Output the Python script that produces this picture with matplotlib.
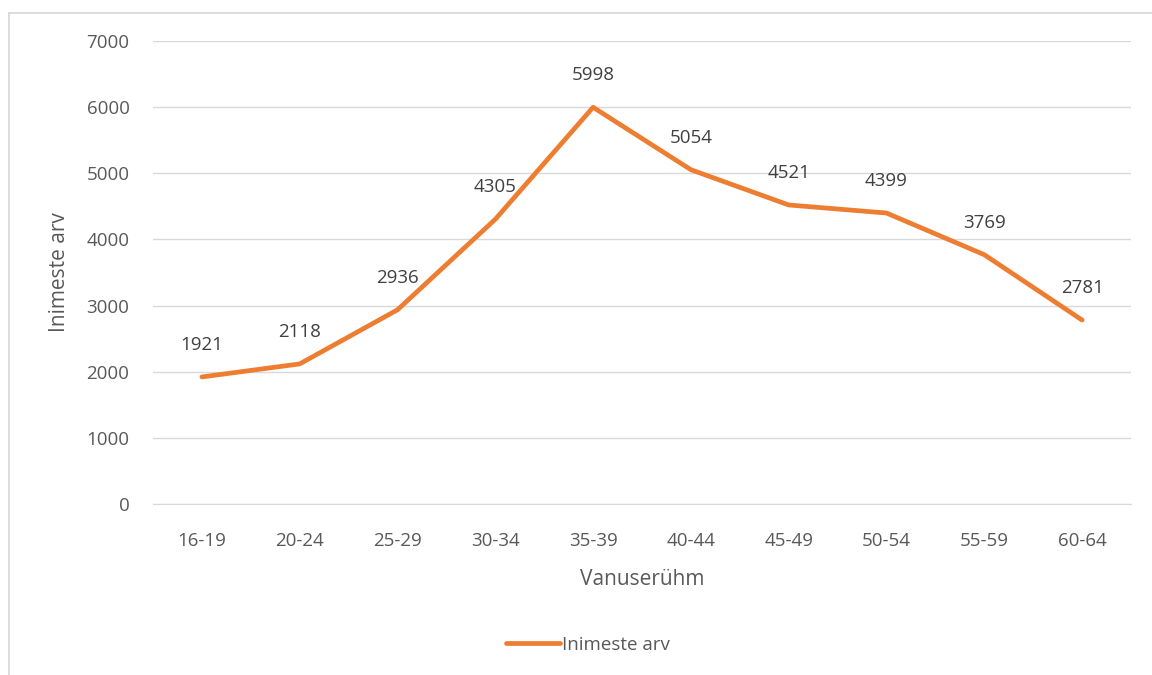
import matplotlib
matplotlib.use("Agg")
import matplotlib.pyplot as plt
from matplotlib.lines import Line2D

categories = ["16-19", "20-24", "25-29", "30-34", "35-39", "40-44", "45-49", "50-54", "55-59", "60-64"]
values = [1921, 2118, 2936, 4305, 5998, 5054, 4521, 4399, 3769, 2781]
yticks = [0, 1000, 2000, 3000, 4000, 5000, 6000, 7000]
series_name = "Inimeste arv"
xlabel = "Vanuserühm"
ylabel = "Inimeste arv"

W, H = 1152, 675
plt.rcParams['font.family'] = ['Open Sans', 'DejaVu Sans']
fig = plt.figure(figsize=(W / 100, H / 100), dpi=100)
fig.patch.set_facecolor("white")

# outer chart frame (top and left edges visible)
fy = 1 - 12.5 / H
fx = 8.5 / W
fig.add_artist(Line2D([fx, 1.0], [fy, fy], transform=fig.transFigure, color="#D9D9D9", linewidth=1.3))
fig.add_artist(Line2D([fx, fx], [0.0, fy], transform=fig.transFigure, color="#D9D9D9", linewidth=1.3))

left, right, top, bottom = 153, 1131, 41, 504
ax = fig.add_axes([left / W, 1 - bottom / H, (right - left) / W, (bottom - top) / H])
ax.set_facecolor("none")

x = list(range(len(categories)))
ax.plot(x, values, color="#ED7D31", linewidth=3.4, solid_capstyle="round", zorder=3)
for xi, v in zip(x, values):
    ax.annotate(str(v), (xi, v), xytext=(0, 23), textcoords="offset points",
                ha="center", va="center", fontsize=13.5, color="#404040")

ax.set_xlim(-0.5, len(categories) - 0.5)
ax.set_ylim(0, 7000)
ax.set_yticks(yticks)
ax.set_yticklabels([str(t) for t in yticks])
ax.set_xticks(x)
ax.set_xticklabels(categories)
ax.tick_params(axis="both", length=0, labelsize=13.5, labelcolor="#595959")
ax.tick_params(axis="y", pad=17)
ax.tick_params(axis="x", pad=20)
ax.grid(axis="y", color="#D9D9D9", linewidth=1)
ax.set_axisbelow(True)
for s in ["top", "right", "left"]:
    ax.spines[s].set_visible(False)
ax.spines["bottom"].set_color("#D9D9D9")

ax.set_xlabel(xlabel, fontsize=15, color="#595959", labelpad=14)
ax.set_ylabel(ylabel, fontsize=15, color="#595959", labelpad=12)

handle = Line2D([], [], color="#ED7D31", linewidth=3.4, solid_capstyle="round")
fig.legend([handle], [series_name], loc="center", bbox_to_anchor=(588 / W, 1 - 645 / H),
           frameon=False, fontsize=13.5, labelcolor="#595959", handlelength=2.9,
           handletextpad=0.1)

fig.savefig("out.png", dpi=100, facecolor="white")
